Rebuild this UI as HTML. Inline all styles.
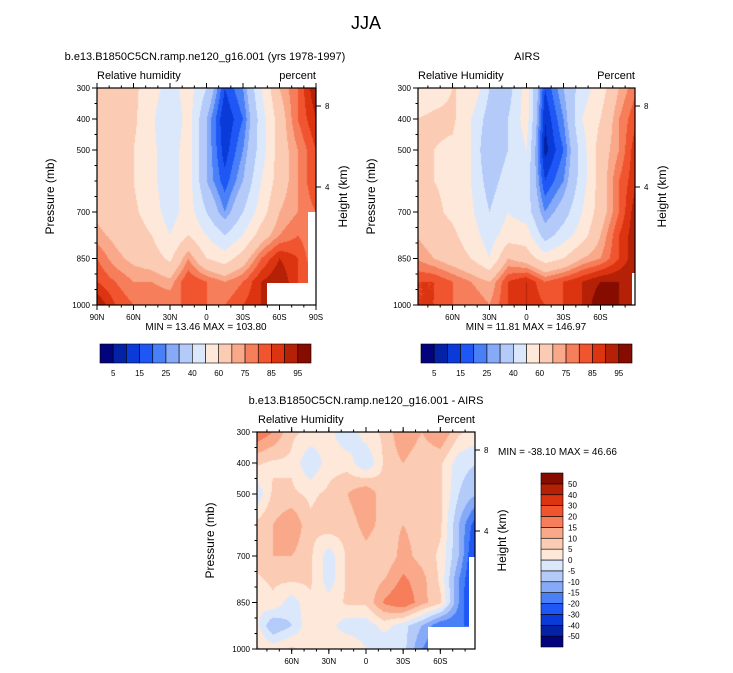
<!DOCTYPE html>
<html><head><meta charset="utf-8">
<style>
body{margin:0;background:#fff;width:733px;height:673px;overflow:hidden;font-family:"Liberation Sans",sans-serif;}
svg{position:absolute;left:0;top:0}
canvas{position:absolute}
</style></head>
<body>
<canvas id="c1" width="219" height="217" style="left:97px;top:88px"></canvas>
<canvas id="c2" width="217" height="217" style="left:418px;top:88px"></canvas>
<canvas id="c3" width="218" height="217" style="left:257px;top:432px"></canvas>
<svg id="s" width="733" height="673"></svg>
<script>
const lats=[90,75,60,45,30,15,0,-15,-30,-45,-60,-75,-90];
const pres=[300,400,500,600,700,775,850,925,1000];
const modelRH=[
[68,65,62,55,45,55,40,15,25,50,70,80,95],
[65,65,62,52,40,55,30,10,20,45,65,80,90],
[65,62,60,52,45,55,30,12,25,45,65,75,85],
[65,62,60,52,45,55,30,17,30,50,65,75,85],
[68,65,62,55,45,55,40,25,40,55,70,75,80],
[72,68,65,60,50,60,50,40,50,65,75,80,75],
[80,72,68,65,58,75,60,55,65,80,90,85,75],
[85,80,75,75,72,85,80,75,80,90,95,85,80],
[95,85,80,80,80,80,80,80,85,90,90,90,90]];
const airsRH=[
[50,55,60,60,40,35,55,15,30,45,55,70,80],
[60,62,62,50,35,40,55,10,25,50,60,75,85],
[62,60,58,50,30,40,50,8,20,45,65,75,90],
[62,60,58,50,35,45,45,15,25,45,65,80,90],
[65,62,58,52,40,50,45,25,35,50,65,80,95],
[70,65,62,55,45,55,55,35,45,55,70,85,95],
[75,70,65,60,50,70,65,55,60,70,75,85,95],
[85,85,80,75,70,85,90,80,85,90,95,95,95],
[85,85,80,80,75,85,90,85,85,90,100,95,90]];
const diffRH=[
[20,15,6,4,2,-5,3,6,15,10,15,6,3],
[6,4,4,-5,3,3,-5,6,10,6,6,-3,-5],
[-5,6,6,4,6,10,15,6,10,10,6,-5,-10],
[6,10,15,6,8,7,12,8,10,8,6,-10,-25],
[6,10,10,6,-3,6,8,6,12,8,4,-10,-30],
[4,6,6,6,-3,6,6,10,16,12,4,-15,-30],
[1,4,-3,4,2,6,6,16,20,12,6,-15,-35],
[3,-10,-5,4,2,-3,-3,2,-3,-10,-20,-20,-20],
[6,3,6,3,3,5,0,-5,-3,-15,-20,-20,-20]];
const rhLevels=[5,10,15,20,25,30,40,50,60,70,75,80,85,90,95];
const diffLevels=[-50,-40,-30,-20,-15,-10,-5,0,5,10,15,20,30,40,50];
const rhLabels=["5","15","25","40","60","75","85","95"];
const colors=['#02037d','#0422a6','#0a3bd8','#1e57f6','#4a80f7','#86a9f8','#b4cbfa','#dbe8fc','#fde8da','#fccbb4','#f9a98a','#f67e5a','#f15530','#dc3410','#b42107','#870c00'];

function colorFor(v,lev){let i=0;while(i<lev.length&&v>=lev[i])i++;return colors[i];}
function interp(grid,lat,p){
  let fi=(90-lat)/15; fi=Math.max(0,Math.min(12,fi));
  let j=0;while(j<pres.length-2&&p>pres[j+1])j++;
  let fj=j+(p-pres[j])/(pres[j+1]-pres[j]); fj=Math.max(0,Math.min(8,fj));
  const i0=Math.min(11,Math.floor(fi)),j0=Math.min(7,Math.floor(fj));
  const a=fi-i0,b=fj-j0;
  return grid[j0][i0]*(1-a)*(1-b)+grid[j0][i0+1]*a*(1-b)+grid[j0+1][i0]*(1-a)*b+grid[j0+1][i0+1]*a*b;
}
function drawField(id,grid,lev,latMax){
  const cv=document.getElementById(id),ctx=cv.getContext('2d');
  const W=cv.width,H=cv.height;
  for(let y=0;y<H;y++)for(let x=0;x<W;x++){
    const lat=latMax-(x+0.5)/W*2*latMax, p=300+(y+0.5)/H*700;
    ctx.fillStyle=colorFor(interp(grid,lat,p),lev);ctx.fillRect(x,y,1,1);
  }
}
drawField('c1',modelRH,rhLevels,90);
drawField('c2',airsRH,rhLevels,88);
drawField('c3',diffRH,diffLevels,88);

const S=document.getElementById('s'),NS='http://www.w3.org/2000/svg';
function el(t,a,txt){const e=document.createElementNS(NS,t);for(const k in a)e.setAttribute(k,a[k]);if(txt!==undefined)e.textContent=txt;S.appendChild(e);return e;}
function text(x,y,s,size,anchor,name,rot){const e=el('text',{x:x,y:y,'font-size':size,'text-anchor':anchor||'start',fill:'#000'},s);
  
  
  if(rot)e.setAttribute('transform','rotate(-90 '+x+' '+y+')');return e;}

function panel(x0,y0,w,h,latMax,latTicks,mask,pfx){
  mask.forEach(m=>{const r=el('rect',{x:m[0],y:m[1],width:m[2],height:m[3],fill:'#fff'});
    
    });
  const fr=el('rect',{x:x0,y:y0,width:w,height:h,fill:'none',stroke:'#000','stroke-width':1.2});
  
  
  const px=l=>x0+(latMax-l)/(2*latMax)*w, py=p=>y0+(p-300)/700*h;
  [300,400,500,700,850,1000].forEach(p=>{
    el('line',{x1:x0-5,x2:x0,y1:py(p),y2:py(p),stroke:'#000'});
    text(x0-7,py(p)+3,String(p),8,'end',pfx+'-y-tick-label');
  });
  [600,750,800,900,950,350,450,550,650].forEach(p=>el('line',{x1:x0-2.5,x2:x0,y1:py(p),y2:py(p),stroke:'#000'}));
  for(let l=-80;l<=80;l+=10){if(Math.abs(l)<=latMax){el('line',{x1:px(l),x2:px(l),y1:y0+h,y2:y0+h+2.5,stroke:'#000'});el('line',{x1:px(l),x2:px(l),y1:y0,y2:y0-2.5,stroke:'#000'});}}
  latTicks.forEach(l=>{
    el('line',{x1:px(l),x2:px(l),y1:y0+h,y2:y0+h+5,stroke:'#000'});
    el('line',{x1:px(l),x2:px(l),y1:y0,y2:y0-5,stroke:'#000'});
    text(px(l),y0+h+15,l==0?'0':Math.abs(l)+(l>0?'N':'S'),8,'middle',pfx+'-x-tick-label');
  });
  [[8,y0+18],[4,y0+99]].forEach(t=>{el('line',{x1:x0+w,x2:x0+w+5,y1:t[1],y2:t[1],stroke:'#000'});text(x0+w+9,t[1]+3,String(t[0]),8,'start',pfx+'-height-tick-label');});
  text(x0-43,y0+h/2,'Pressure (mb)',12,'middle',pfx+'-y-axis-title',true);
  text(x0+w+31,y0+h/2,'Height (km)',12,'middle',pfx+'-right-axis-title',true);
}
function hbar(x0,y0,w,h,pfx){
  const bw=w/16;
  colors.forEach((c,i)=>{const r=el('rect',{x:x0+i*bw,y:y0,width:bw,height:h,fill:c,stroke:'#000','stroke-width':0.6});
    
    });
  rhLabels.forEach((s,k)=>text(x0+(2*k+1)*bw,y0+h+13,s,8,'middle',pfx+'-colorbar-label'));
}
text(366,29,'JJA',18,'middle','figure-title');
panel(97,88,219,217,90,[90,60,30,0,-30,-60,-90],[[267,283,49,22],[308,212,8,71]],'model');
text(205,60,'b.e13.B1850C5CN.ramp.ne120_g16.001 (yrs 1978-1997)',11,'middle','model-title');
text(97,79,'Relative humidity',11,'start','model-variable-label');
text(316,79,'percent',11,'end','model-units-label');
text(206,330,'MIN =  13.46  MAX = 103.80',10,'middle','model-min-max');
hbar(100,344,211,19,'model');
panel(418,88,217,217,88,[60,30,0,-30,-60],[[632,273,3,32]],'airs');
text(527,60,'AIRS',11,'middle','airs-title');
text(418,79,'Relative Humidity',11,'start','airs-variable-label');
text(635,79,'Percent',11,'end','airs-units-label');
text(526,330,'MIN =  11.81  MAX = 146.97',10,'middle','airs-min-max');
hbar(421,344,211,19,'airs');
panel(257,432,218,217,88,[60,30,0,-30,-60],[[428,627,47,22],[469,557,6,70]],'diff');
text(366,404,'b.e13.B1850C5CN.ramp.ne120_g16.001 - AIRS',11,'middle','diff-title');
text(258,423,'Relative Humidity',11,'start','diff-variable-label');
text(475,423,'Percent',11,'end','diff-units-label');
text(498,455,'MIN = -38.10  MAX =  46.66',10,'start','diff-min-max');
const vx=541,vy=473,vw=22,vh=174,bh=vh/16;
for(let i=0;i<16;i++){const r=el('rect',{x:vx,y:vy+(15-i)*bh,width:vw,height:bh,fill:colors[i],stroke:'#000','stroke-width':0.6});
  
  }
diffLevels.forEach((v,i)=>text(vx+vw+5,vy+(15-i)*bh+3,String(v),8,'start','diff-colorbar-label'));
</script>
</body></html>
